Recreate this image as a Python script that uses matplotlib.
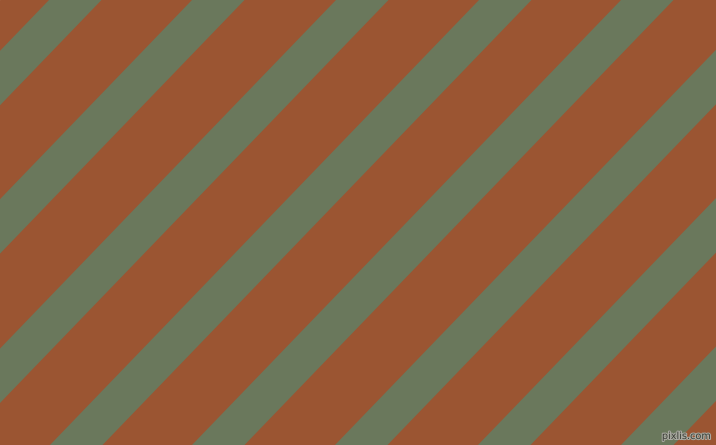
import matplotlib
matplotlib.use("Agg")
import matplotlib.pyplot as plt
from matplotlib.patches import Polygon
import matplotlib.patheffects as pe

# Pattern data (pixel units of the 716x445 image)
width_px = 716
height_px = 445
stripe_top_x = [-237, -94, 49, 192, 336, 479, 621, 764, 907, 1050, 1193]  # left edge of green stripes along top edge
stripe_width_x = 52.5          # horizontal width of each green stripe
stripe_slope = 1.0373          # rise per pixel (angle ~46 deg)
bg_color = "#9B5532"
stripe_color = "#6A785C"
watermark = "pixlis.com"

fig = plt.figure(figsize=(7.16, 4.45), dpi=100)
ax = fig.add_axes([0, 0, 1, 1])
ax.set_xlim(0, width_px)
ax.set_ylim(height_px, 0)
ax.axis("off")
ax.add_patch(plt.Rectangle((0, 0), width_px, height_px, color=bg_color, zorder=0))

shift = height_px / stripe_slope
for x0 in stripe_top_x:
    pts = [(x0, 0), (x0 + stripe_width_x, 0),
           (x0 + stripe_width_x - shift, height_px), (x0 - shift, height_px)]
    ax.add_patch(Polygon(pts, closed=True, facecolor=stripe_color,
                         edgecolor="none", zorder=1))

ax.text(711, 441, watermark, ha="right", va="bottom", fontsize=7,
        color="#3a3d35", zorder=3,
        path_effects=[pe.withStroke(linewidth=1.5, foreground="#a8a8a0")])

fig.savefig("out.png", dpi=100)
